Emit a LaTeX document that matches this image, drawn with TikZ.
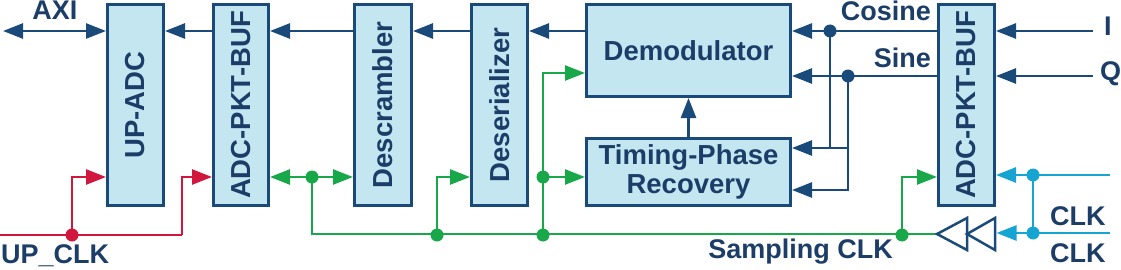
\documentclass[tikz,border=0pt]{standalone}
\usepackage{fontspec}
\usepackage{graphicx}
\setmainfont{Liberation Sans}
\usetikzlibrary{arrows.meta}
\definecolor{navy}{HTML}{1A4A7A}
\definecolor{txt}{HTML}{1B3D68}
\definecolor{boxfill}{HTML}{C3E6F1}
\definecolor{redc}{HTML}{D2173F}
\definecolor{grc}{HTML}{18A84A}
\definecolor{cyc}{HTML}{16A4D3}
\begin{document}
\begin{tikzpicture}[x=1pt,y=-1pt,
  blk/.style={draw=navy, line width=3pt, fill=boxfill, inner sep=0pt, text=txt,
    font=\bfseries\fontsize{27.5}{30}\selectfont},
  lbl/.style={inner sep=0pt, text=txt, font=\bfseries\fontsize{27}{30}\selectfont},
  tip/.tip={Triangle[length=20pt,width=15pt]},
  nv/.style={draw=navy, line width=2.5pt},
  rd/.style={draw=redc, line width=2.5pt},
  gr/.style={draw=grc, line width=2.5pt},
  cy/.style={draw=cyc, line width=2.5pt},
  dot/.style={circle, inner sep=0pt, minimum size=13pt}
]
\useasboundingbox (0,0) rectangle (1121,270);

% blocks
\node[blk, minimum width=56pt, minimum height=201pt] (upadc) at (135.5,105) {\rotatebox{90}{UP-ADC}};
\node[blk, minimum width=55pt, minimum height=201pt] (buf1) at (241,105) {\rotatebox{90}{ADC-PKT-BUF}};
\node[blk, minimum width=57pt, minimum height=201pt] (desc) at (383,105) {\rotatebox{90}{Descrambler}};
\node[blk, minimum width=56pt, minimum height=201pt] (deser) at (499.5,105) {\rotatebox{90}{Deserializer}};
\node[blk, minimum width=204pt, minimum height=92pt] (demod) at (688.5,50.5) {Demodulator};
\node[blk, minimum width=204pt, minimum height=67pt, align=center] (timing) at (688.5,172) {Timing-Phase\\[-1pt]Recovery};
\node[blk, minimum width=56pt, minimum height=201pt] (buf2) at (966.5,105) {\rotatebox{90}{ADC-PKT-BUF}};

% labels
\node[lbl] (axilbl) at (55,10) {AXI};
\node[lbl, anchor=base west] (upclklbl) at (1,263) {UP\_CLK};
\node[lbl, anchor=base east] (coslbl) at (931,21) {Cosine};
\node[lbl, anchor=base east] (sinlbl) at (931,67) {Sine};
\node[lbl, anchor=base west] (ilbl) at (1104,36) {I};
\node[lbl, anchor=base west] (qlbl) at (1100,80) {Q};
\node[lbl, anchor=base west] (clk1lbl) at (1050,225) {CLK};
\node[lbl, anchor=base west] (clk2lbl) at (1050,262) {CLK};
\node[lbl, anchor=base east] (samplbl) at (893,258) {Sampling CLK};

% coordinates
\coordinate (axi) at (3,31);
\coordinate (upclk) at (0,235);
\coordinate (rj) at (72,235);
\coordinate (r2) at (182,235);
\coordinate (g1) at (312,177);
\coordinate (g2) at (437,235);
\coordinate (g3) at (543,235);
\coordinate (g3b) at (543,177);
\coordinate (g4) at (902,235);
\coordinate (tA) at (937,234);
\coordinate (tAb) at (967,234);
\coordinate (tBb) at (995,234);
\coordinate (cj) at (830,31);
\coordinate (sj) at (848,76);
\coordinate (cm1) at (830,148);
\coordinate (cm2) at (848,148);
\coordinate (iin) at (1093,31);
\coordinate (qin) at (1093,76);
\coordinate (c1) at (1110,175);
\coordinate (c2) at (1110,233);
\coordinate (cd1) at (1033,175);
\coordinate (cd2) at (1033,233);

% navy data path
\draw[nv, {tip}-{tip}] (axi) -- (upadc.west |- axi);
\draw[nv, -{tip}] (buf1.west |- axi) -- (upadc.east |- axi);
\draw[nv, -{tip}] (desc.west |- axi) -- (buf1.east |- axi);
\draw[nv, -{tip}] (deser.west |- axi) -- (desc.east |- axi);
\draw[nv, -{tip}] (demod.west |- axi) -- (deser.east |- axi);
\draw[nv, -{tip}] (buf2.west |- cj) -- (demod.east |- cj);
\draw[nv, -{tip}] (buf2.west |- sj) -- (demod.east |- sj);
\draw[nv, -{tip}] (cj) |- (timing.east |- cm1);
\draw[nv] (cm1) -- (cm2);
\draw[nv, -{tip}] (sj) |- (timing.east |- 0,190);
\draw[nv, -{tip}] (timing.north) -- (demod.south);
\draw[nv, -{tip}] (iin) -- (buf2.east |- iin);
\draw[nv, -{tip}] (qin) -- (buf2.east |- qin);
\node[dot, fill=navy] (cjd) at (cj) {};
\node[dot, fill=navy] (sjd) at (sj) {};

% red UP_CLK
\draw[rd] (upclk) -- (r2);
\draw[rd, -{tip}] (r2) |- (buf1.west |- 0,177);
\draw[rd, -{tip}] (rj) |- (upadc.west |- 0,177);
\node[dot, fill=redc] (rjd) at (rj) {};

% green sampling clock
\draw[gr, {tip}-{tip}] (buf1.east |- g1) -- (desc.west |- g1);
\draw[gr] (g1) |- (tA);
\draw[gr, -{tip}] (g2) |- (deser.west |- 0,177);
\draw[gr, -{tip}] (g3) |- (demod.west |- 0,73);
\draw[gr, -{tip}] (g3b) -- (timing.west |- g3b);
\draw[gr, -{tip}] (g4) |- (buf2.west |- 0,177);
\foreach \p in {g1,g2,g3,g3b,g4} \node[dot, fill=grc] at (\p) {};

% clock buffers
\draw[nv, fill=white, line join=miter] (tA) -- (967,218) -- (967,250) -- cycle;
\draw[nv, fill=white, line join=miter] (tAb) -- (995,218) -- (995,250) -- cycle;

% cyan CLK
\draw[cy, -{tip}] (c1) -- (buf2.east |- c1);
\draw[cy, -{tip}] (c2) -- (996.5,233);
\draw[cy] (cd1) -- (cd2);
\node[dot, fill=cyc] (cd1d) at (cd1) {};
\node[dot, fill=cyc] (cd2d) at (cd2) {};
\end{tikzpicture}
\end{document}
